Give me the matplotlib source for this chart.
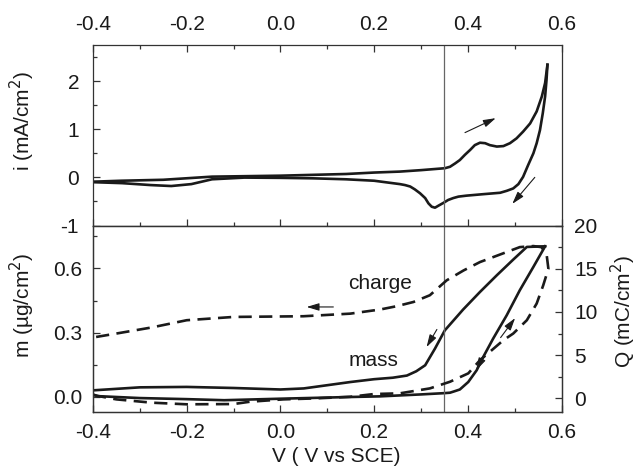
import numpy as np
import matplotlib
matplotlib.use("Agg")
import matplotlib.pyplot as plt
from matplotlib.ticker import MultipleLocator, FormatStrFormatter

plt.rcParams['font.family'] = ['Liberation Sans', 'DejaVu Sans']
plt.rcParams['font.size'] = 15
plt.rcParams['axes.unicode_minus'] = False

# cyclic voltammogram (top panel), anodic then cathodic sweep
cv_fwd_v = [-0.40, -0.34, -0.25, -0.146, 0.0, 0.14, 0.20, 0.255, 0.30, 0.351, 0.362,
            0.373, 0.383, 0.394, 0.405, 0.415, 0.426, 0.437, 0.447, 0.462, 0.476,
            0.490, 0.504, 0.518, 0.533, 0.547, 0.558, 0.565, 0.570]
cv_fwd_i = [-0.09, -0.07, -0.05, 0.015, 0.035, 0.07, 0.10, 0.12, 0.15, 0.19, 0.22,
            0.29, 0.36, 0.47, 0.57, 0.67, 0.72, 0.71, 0.67, 0.64, 0.65,
            0.71, 0.81, 0.95, 1.12, 1.37, 1.68, 1.96, 2.34]
cv_rev_v = [0.570, 0.568, 0.565, 0.560, 0.554, 0.547, 0.540, 0.529, 0.518, 0.508, 0.497,
            0.483, 0.469, 0.432, 0.397, 0.380, 0.369, 0.358, 0.348, 0.337, 0.330, 0.323,
            0.316, 0.309, 0.298, 0.287, 0.277, 0.266, 0.255, 0.20, 0.14, 0.07, 0.0,
            -0.077, -0.146, -0.19, -0.233, -0.277, -0.338, -0.40]
cv_rev_i = [2.34, 2.02, 1.68, 1.33, 0.98, 0.71, 0.50, 0.26, 0.01, -0.14, -0.23,
            -0.28, -0.32, -0.35, -0.38, -0.40, -0.43, -0.47, -0.53, -0.59, -0.63, -0.61,
            -0.54, -0.43, -0.33, -0.25, -0.19, -0.16, -0.14, -0.07, -0.04, -0.02, -0.01,
            -0.005, -0.04, -0.14, -0.18, -0.16, -0.12, -0.10]

# mass change (bottom panel, left axis)
mass_fwd_v = [-0.40, -0.39, -0.30, -0.20, -0.12, 0.0, 0.149, 0.213, 0.30, 0.35, 0.362,
              0.372, 0.383, 0.401, 0.419, 0.433, 0.454, 0.483, 0.511, 0.540, 0.565]
mass_fwd_m = [0.012, 0.004, -0.005, -0.010, -0.015, -0.008, 0.0, 0.003, 0.012, 0.018, 0.02,
              0.027, 0.035, 0.07, 0.125, 0.187, 0.272, 0.381, 0.498, 0.607, 0.703]
mass_rev_v = [0.565, 0.526, 0.497, 0.462, 0.426, 0.390, 0.351, 0.330, 0.309, 0.29, 0.27,
              0.24, 0.20, 0.15, 0.10, 0.05, 0.0, -0.10, -0.20, -0.30, -0.40]
mass_rev_m = [0.703, 0.70, 0.641, 0.568, 0.49, 0.408, 0.311, 0.226, 0.148, 0.12, 0.10,
              0.09, 0.083, 0.07, 0.055, 0.04, 0.035, 0.042, 0.047, 0.045, 0.031]

# charge (bottom panel, right axis)
charge_v = [-0.40, -0.35, -0.275, -0.20, -0.10, -0.065, 0.006, 0.077, 0.149, 0.20, 0.255,
            0.319, 0.362, 0.401, 0.426, 0.447, 0.476, 0.497, 0.526, 0.547, 0.561, 0.572,
            0.568, 0.557, 0.540, 0.511, 0.483, 0.426, 0.391, 0.355, 0.319, 0.284, 0.248,
            0.213, 0.149, 0.049, -0.10, -0.20, -0.275, -0.35, -0.40]
charge_q = [0.38, -0.12, -0.5, -0.69, -0.66, -0.39, -0.12, 0.0, 0.18, 0.5, 0.58,
            1.15, 1.92, 2.89, 4.42, 5.38, 6.73, 7.5, 9.04, 10.97, 13.08, 15.0,
            16.74, 17.5, 17.62, 17.5, 16.93, 15.77, 14.8, 13.66, 11.93, 11.15, 10.66,
            10.28, 9.8, 9.5, 9.42, 9.04, 8.2, 7.5, 7.04]

V_MARK = 0.35
ink = '#1a1a1a'
frame = '#333333'

fig = plt.figure(figsize=(6.38, 4.69), dpi=100)
W, H = 638.0, 469.0
ax1 = fig.add_axes([93 / W, 1 - 225.5 / H, 468.5 / W, 180.5 / H])
ax2 = fig.add_axes([93 / W, 1 - 412 / H, 468.5 / W, 186.5 / H])
ax3 = ax2.twinx()

lw = 1.9
ax1.plot(cv_fwd_v, cv_fwd_i, color=ink, lw=lw, solid_joinstyle='round')
ax1.plot(cv_rev_v, cv_rev_i, color=ink, lw=lw, solid_joinstyle='round')
ax2.plot(mass_fwd_v, mass_fwd_m, color=ink, lw=lw, solid_joinstyle='round')
ax2.plot(mass_rev_v, mass_rev_m, color=ink, lw=lw, solid_joinstyle='round')
ln, = ax3.plot(charge_v, charge_q, color=ink, lw=lw)
ln.set_dashes([5.0, 2.8])

for ax in (ax1, ax2):
    ax.axvline(V_MARK, color='#666666', lw=0.9)
    ax.set_xlim(-0.4, 0.6)
    ax.xaxis.set_major_locator(MultipleLocator(0.2))
    ax.xaxis.set_minor_locator(MultipleLocator(0.1))
    ax.xaxis.set_major_formatter(FormatStrFormatter('%.1f'))
for ax in (ax1, ax2, ax3):
    for s in ax.spines.values():
        s.set_color(frame)
        s.set_linewidth(0.9)
    ax.tick_params(which='major', length=5, width=0.9, colors=frame, labelcolor=ink)
    ax.tick_params(which='minor', length=3, width=0.9, colors=frame)

ax1.set_ylim(-1, 2.75)
ax1.yaxis.set_major_locator(MultipleLocator(1))
ax1.yaxis.set_minor_locator(MultipleLocator(0.5))
ax1.tick_params(axis='x', which='both', direction='in', top=True, bottom=True,
                labeltop=True, labelbottom=False, pad=8)
ax1.tick_params(axis='y', which='both', direction='in', left=True, right=False, pad=10)

ax2.set_ylim(-0.07, 0.8)
ax2.yaxis.set_major_locator(MultipleLocator(0.3))
ax2.yaxis.set_minor_locator(MultipleLocator(0.15))
ax2.yaxis.set_major_formatter(FormatStrFormatter('%.1f'))
ax2.tick_params(axis='x', which='both', direction='in', top=False, bottom=True, pad=8)
ax2.tick_params(axis='y', which='both', direction='in', left=True, right=False, pad=8)

ax3.set_ylim(-1.58, 20)
ax3.yaxis.set_major_locator(MultipleLocator(5))
ax3.yaxis.set_minor_locator(MultipleLocator(2.5))
ax3.tick_params(axis='y', which='both', direction='in', pad=9)

ax1.set_ylabel('i (mA/cm$^2$)', color=ink)
ax1.yaxis.set_label_coords(-0.12, 0.58)
ax2.set_ylabel('m (\u00b5g/cm$^2$)', color=ink)
ax2.yaxis.set_label_coords(-0.12, 0.574)
ax3.set_ylabel('Q (mC/cm$^2$)', color=ink)
ax3.yaxis.set_label_coords(1.102, 0.538)
ax2.set_xlabel('V ( V vs SCE)', color=ink)
ax2.xaxis.set_label_coords(0.52, -0.19)

ax2.text(0.2125, 0.53, 'charge', ha='center', va='center', color=ink)
ax2.text(0.198, 0.171, 'mass', ha='center', va='center', color=ink)

arrow = dict(arrowstyle='-|>,head_length=0.5,head_width=0.15', color=ink, lw=0.8,
             shrinkA=0, shrinkB=0)
ax1.annotate('', xy=(0.4596, 1.23), xytext=(0.394, 0.93), arrowprops=arrow)
ax1.annotate('', xy=(0.495, -0.55), xytext=(0.543, 0.0), arrowprops=arrow)
ax2.annotate('', xy=(0.056, 0.42), xytext=(0.113, 0.42), arrowprops=arrow)
ax2.annotate('', xy=(0.312, 0.233), xytext=(0.334, 0.315), arrowprops=arrow)
ax2.annotate('', xy=(0.501, 0.368), xytext=(0.470, 0.277), arrowprops=arrow)
ax2.annotate('', xy=(0.418, 0.125), xytext=(0.430, 0.175), arrowprops=arrow)

fig.savefig('out.png', dpi=100)
